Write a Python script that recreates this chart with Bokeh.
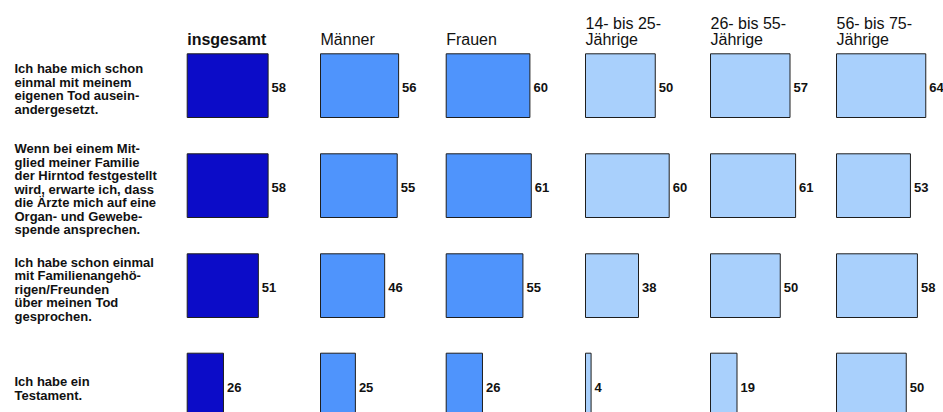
from bokeh.plotting import figure
from bokeh.models import Range1d, ColumnDataSource
from bokeh.core.properties import value
from bokeh.embed import file_html
from bokeh.resources import INLINE

# ---- data ----
columns = ["insgesamt", "Männer", "Frauen",
           "14- bis 25-\nJährige", "26- bis 55-\nJährige", "56- bis 75-\nJährige"]
statements = [
    "Ich habe mich schon\neinmal mit meinem\neigenen Tod ausein-\nandergesetzt.",
    "Wenn bei einem Mit-\nglied meiner Familie\nder Hirntod festgestellt\nwird, erwarte ich, dass\ndie Ärzte mich auf eine\nOrgan- und Gewebe-\nspende ansprechen.",
    "Ich habe schon einmal\nmit Familienangehö-\nrigen/Freunden\nüber meinen Tod\ngesprochen.",
    "Ich habe ein\nTestament.",
]
insgesamt = [58, 58, 51, 26]
maenner = [56, 55, 46, 25]
frauen = [60, 61, 55, 26]
age_14_25 = [50, 60, 38, 4]
age_26_55 = [57, 61, 50, 19]
age_56_75 = [64, 53, 58, 50]
series = [insgesamt, maenner, frauen, age_14_25, age_26_55, age_56_75]

# ---- layout / style ----
col_left = [186.7, 320.0, 445.7, 585.0, 710.0, 836.0]
row_top = [53.3, 153.3, 253.3, 352.7]
bar_h = 63.7
px_per_unit = 1.395
colors = ["#0c0cc8", "#4f94fc", "#4f94fc", "#a9d0fc", "#a9d0fc", "#a9d0fc"]

W, H = 943, 412
p = figure(width=W, height=H, output_backend="svg", toolbar_location=None,
           x_range=Range1d(0, W), y_range=Range1d(H, 0),
           min_border=0)
p.xaxis.visible = False
p.yaxis.visible = False
p.xgrid.visible = False
p.ygrid.visible = False
p.outline_line_color = None
p.background_fill_color = "white"

left, right, top, bottom, fill, lx, ly, lt = [], [], [], [], [], [], [], []
for ci, vals in enumerate(series):
    for ri, v in enumerate(vals):
        l = col_left[ci]
        r = l + v * px_per_unit
        left.append(l); right.append(r)
        top.append(row_top[ri]); bottom.append(row_top[ri] + bar_h)
        fill.append(colors[ci])
        lx.append(r + 3.5)
        ly.append(row_top[ri] + bar_h / 2 + 2)
        lt.append(str(v))

p.quad(source=ColumnDataSource(dict(left=left, right=right, top=top, bottom=bottom, fill=fill)),
       left="left", right="right", top="top", bottom="bottom",
       fill_color="fill", line_color="#1e1e1e", line_width=1)

p.text(x=lx, y=ly, text=lt, text_font=value("Liberation Sans"),
       text_font_style="bold", text_font_size="13px", text_color="#111111",
       text_align="left", text_baseline="middle")

# headers
h1x, h1y, h1t, h2x, h2y, h2t = [], [], [], [], [], []
for ci, name in enumerate(columns):
    parts = name.split("\n")
    if len(parts) == 2:
        h1x.append(col_left[ci]); h1y.append(23.0); h1t.append(parts[0])
    if ci == 0:
        continue
    h2x.append(col_left[ci]); h2y.append(39.0); h2t.append(parts[-1])

p.text(x=[col_left[0]], y=[39.0], text=[columns[0]], text_font=value("Liberation Sans"),
       text_font_style="bold", text_font_size="16px", text_color="#111111",
       text_align="left", text_baseline="alphabetic")
p.text(x=h2x, y=h2y, text=h2t, text_font=value("Liberation Sans"),
       text_font_size="16px", text_color="#111111",
       text_align="left", text_baseline="alphabetic")
p.text(x=h1x, y=h1y, text=h1t, text_font=value("Liberation Sans"),
       text_font_size="16px", text_color="#111111",
       text_align="left", text_baseline="alphabetic")

# row labels
p.text(x=[14] * len(statements), y=[t + bar_h / 2 + 3.5 for t in row_top], text=statements,
       text_font=value("Liberation Sans"), text_font_style="bold",
       text_font_size="13px", text_line_height=0.9, text_color="#111111",
       text_align="left", text_baseline="middle")

open("out.html", "w").write(file_html(p, INLINE))
